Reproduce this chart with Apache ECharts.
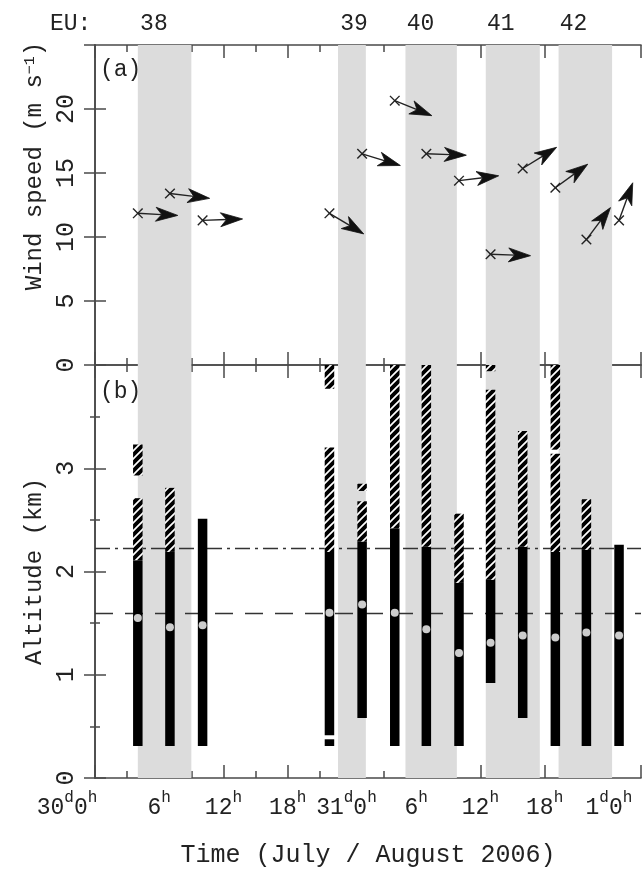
<!DOCTYPE html>
<html><head><meta charset="utf-8">
<script src="https://cdn.jsdelivr.net/npm/echarts@6/dist/echarts.min.js"></script>
<style>html,body{margin:0;padding:0;background:#fff}#c{width:643px;height:869px}</style>
</head><body><div id="c"></div>
<script>
const FONT = '"Liberation Mono", monospace';
const TXT = '#222';
const AX = '#4a4a4a';

// Flight times, hours after 30 July 0h UTC
const flightTimes = [4.0, 7.0, 10.05, 21.9, 24.95, 28.0, 30.95, 34.0, 36.95, 39.95, 43.0, 45.9, 48.95];
// Panel (a): wind speed (m/s) and wind direction (deg, from)
const windSpeed = [11.85, 13.4, 11.3, 11.85, 16.5, 20.65, 16.5, 14.4, 8.65, 15.35, 13.85, 9.8, 11.3];
const windDir = [273, 277, 268, 301, 287, 292, 272, 263, 272, 238, 234, 217, 200];
// Panel (b): altitude ranges (km)
const solidBase = [0.31, 0.31, 0.31, 0.415, 0.58, 0.31, 0.31, 0.31, 0.92, 0.58, 0.31, 0.31, 0.31];
const solidTop  = [2.11, 2.19, 2.51, 2.19, 2.29, 2.42, 2.24, 1.89, 1.92, 2.24, 2.19, 2.21, 2.26];
const hatchTop  = [2.71, 2.81, 2.51, 3.20, 2.68, 4.0, 4.0, 2.56, 3.76, 3.36, 3.14, 2.70, 2.26];
const extraHatchTime = [4.0, 21.9, 24.95, 36.95, 43.0];
const extraHatchBase = [2.93, 3.77, 2.78, 3.94, 3.18];
const extraHatchTop  = [3.23, 4.0, 2.85, 4.0, 4.0];
const extraSolidTime = [21.9];
const extraSolidBase = [0.31];
const extraSolidTop  = [0.375];
const dotAltitude = [1.55, 1.46, 1.48, 1.60, 1.68, 1.60, 1.44, 1.21, 1.31, 1.38, 1.36, 1.41, 1.38];
const refLevels = [2.23, 1.60];
// EU periods
const euBandStart = [4.0, 22.7, 29.0, 36.5, 43.3];
const euBandEnd   = [9.0, 25.3, 33.8, 41.55, 48.3];
const euTimes   = [5.5, 24.2, 30.4, 37.9, 44.7];
const euNumbers = ['38', '39', '40', '41', '42'];
// x tick labels every 6 h
const xTickLabels = ['30d0h', '6h', '12h', '18h', '31d0h', '6h', '12h', '18h', '1d0h'];
const xTickShift  = ['g56', '', '', '', 'g11', '', '', '', ''];

const T_MAX = 51;

// hatch pattern
function makeHatch() {
  const s = 8;
  const c = document.createElement('canvas');
  c.width = s; c.height = s;
  const g = c.getContext('2d');
  g.fillStyle = '#000'; g.fillRect(0, 0, s, s);
  g.strokeStyle = '#fff'; g.lineWidth = 1.7;
  g.beginPath();
  g.moveTo(-1, s + 1); g.lineTo(s + 1, -1);
  g.moveTo(-1, 1); g.lineTo(1, -1);
  g.moveTo(s - 1, s + 1); g.lineTo(s + 1, s - 1);
  g.stroke();
  return c;
}
const hatchImg = makeHatch();

// bar segments [t, y0, y1, kind] kind 0 solid, 1 hatched
const segments = [];
flightTimes.forEach((t, i) => {
  segments.push([t, solidBase[i], solidTop[i], 0]);
  if (hatchTop[i] > solidTop[i]) segments.push([t, solidTop[i], hatchTop[i], 1]);
});
extraHatchTime.forEach((t, i) => segments.push([t, extraHatchBase[i], extraHatchTop[i], 1]));
extraSolidTime.forEach((t, i) => segments.push([t, extraSolidBase[i], extraSolidTop[i], 0]));

const bands = euBandStart.map((s, i) => [s, euBandEnd[i]]);

function xAx(grid, pos, interval, len, extra) {
  return Object.assign({
    type: 'value', gridIndex: grid, position: pos, min: 0, max: T_MAX, interval: interval,
    axisLine: { show: false, lineStyle: { color: AX, width: 1.6 } },
    axisTick: { show: true, inside: true, length: len, lineStyle: { color: AX, width: 1.5 } },
    axisLabel: { show: false }, splitLine: { show: false }
  }, extra || {});
}

const xRich = {
  n: { fontSize: 23, fontFamily: FONT, color: TXT, lineHeight: 29, verticalAlign: 'bottom' },
  s: { fontSize: 16, fontFamily: FONT, color: TXT, lineHeight: 16, verticalAlign: 'top' },
  g56: { width: 56 }, g11: { width: 11 }
};

function xLabelFmt(v) {
  if (Math.abs(v % 6) > 1e-6) return '';
  const idx = Math.round(v / 6);
  if (idx < 0 || idx >= xTickLabels.length) return '';
  let s = xTickLabels[idx].replace(/(\d+)([dh])/g, '{n|$1}{s|$2}');
  if (xTickShift[idx]) s += '{' + xTickShift[idx] + '|}';
  return s;
}

const xAxes = [
  xAx(0, 'bottom', 3, 7, { axisLine: { show: true, lineStyle: { color: AX, width: 1.6 } } }),
  xAx(0, 'bottom', 6, 13),
  xAx(0, 'top', 3, 7, { axisLine: { show: true, lineStyle: { color: AX, width: 1.6 } } }),
  xAx(0, 'top', 6, 13),
  xAx(0, 'top', 6, 0, {
    axisTick: { show: false },
    axisLabel: {
      show: true, customValues: euTimes, margin: 10,
      fontSize: 23, fontFamily: FONT, color: TXT,
      formatter: v => { const k = euTimes.findIndex(e => Math.abs(e - v) < 1e-6); return k >= 0 ? euNumbers[k] : ''; }
    }
  }),
  xAx(1, 'bottom', 3, 7, { axisLine: { show: true, lineStyle: { color: AX, width: 1.6 } } }),
  xAx(1, 'bottom', 6, 13, {
    axisLabel: { show: true, margin: 12, formatter: xLabelFmt, rich: xRich },
    name: 'Time (July / August 2006)', nameLocation: 'middle', nameGap: 65, nameMoveOverlap: false,
    nameTextStyle: { fontSize: 25, fontFamily: FONT, color: TXT }
  }),
  xAx(1, 'top', 3, 7, { axisLine: { show: true, lineStyle: { color: AX, width: 1.6 } } }),
  xAx(1, 'top', 6, 13)
];

function yAx(grid, pos, max, interval, extra) {
  return Object.assign({
    type: 'value', gridIndex: grid, position: pos, min: 0, max: max, interval: interval,
    axisLine: { show: true, lineStyle: { color: AX, width: 1.6 } },
    axisTick: { show: true, inside: true, length: 11, lineStyle: { color: AX, width: 1.5 } },
    axisLabel: { show: false }, splitLine: { show: false }
  }, extra || {});
}
const yLabel = { show: true, rotate: 90, showMaxLabel: false, margin: 16, fontSize: 25, fontFamily: FONT, color: TXT };
const yAxes = [
  yAx(0, 'left', 25, 5, {
    axisLabel: yLabel,
    name: 'Wind speed (m s{sup|\u22121})', nameLocation: 'middle', nameRotate: 90, nameGap: 48, nameMoveOverlap: false,
    nameTextStyle: { fontSize: 24, fontFamily: FONT, color: TXT, padding: [0, 0, 0, 78],
      rich: { sup: { fontSize: 15, fontFamily: FONT, color: TXT, verticalAlign: 'top' } } }
  }),
  yAx(0, 'right', 25, 5),
  yAx(1, 'left', 4, 1, {
    axisLabel: yLabel,
    minorTick: { show: true, splitNumber: 2, length: 5, lineStyle: { color: AX, width: 1.5 } },
    name: 'Altitude (km)', nameLocation: 'middle', nameRotate: 90, nameGap: 48, nameMoveOverlap: false,
    nameTextStyle: { fontSize: 24, fontFamily: FONT, color: TXT }
  }),
  yAx(1, 'right', 4, 1, {
    minorTick: { show: true, splitNumber: 2, length: 5, lineStyle: { color: AX, width: 1.5 } }
  })
];

function bandRender(params, api) {
  const cs = params.coordSys;
  const a = api.coord([api.value(0), 0]);
  const b = api.coord([api.value(1), 0]);
  return { type: 'rect', shape: { x: a[0], y: cs.y, width: b[0] - a[0], height: cs.height },
    style: { fill: '#dcdcdc' } };
}

function arrowRender(params, api) {
  const p = api.coord([api.value(0), api.value(1)]);
  const d = api.value(2) * Math.PI / 180;
  const ux = -Math.sin(d), uy = Math.cos(d);
  const px = -uy, py = ux;
  const L = 40, H = 22, W = 7, N = 6, c = 4.8;
  const at = k => [p[0] + ux * k, p[1] + uy * k];
  const tip = at(L), back = at(L - H), notch = at(L - H + N);
  const b1 = [back[0] + px * W, back[1] + py * W];
  const b2 = [back[0] - px * W, back[1] - py * W];
  const st = { stroke: '#222', lineWidth: 1.4 };
  return { type: 'group', children: [
    { type: 'line', shape: { x1: p[0] - c, y1: p[1] - c, x2: p[0] + c, y2: p[1] + c }, style: st },
    { type: 'line', shape: { x1: p[0] - c, y1: p[1] + c, x2: p[0] + c, y2: p[1] - c }, style: st },
    { type: 'line', shape: { x1: p[0], y1: p[1], x2: notch[0], y2: notch[1] }, style: st },
    { type: 'polygon', shape: { points: [tip, b1, notch, b2] }, style: { fill: '#111', stroke: '#111', lineWidth: 0.8, lineJoin: 'round' } }
  ] };
}

function barRender(params, api) {
  const top = api.coord([api.value(0), api.value(2)]);
  const bot = api.coord([api.value(0), api.value(1)]);
  const w = 9.5;
  const hatched = api.value(3) === 1;
  return { type: 'rect', shape: { x: top[0] - w / 2, y: top[1], width: w, height: bot[1] - top[1] },
    style: { fill: hatched ? { image: hatchImg, repeat: 'repeat' } : '#000' } };
}

const option = {
  animation: false,
  backgroundColor: '#fff',
  grid: [
    { left: 95, right: 2, top: 45, height: 320, containLabel: false, outerBoundsMode: 'none' },
    { left: 95, right: 2, top: 365, height: 413, containLabel: false, outerBoundsMode: 'none' }
  ],
  xAxis: xAxes,
  yAxis: yAxes,
  graphic: [
    { type: 'text', x: 50, y: 24, style: { text: 'EU:', fontSize: 23, fontFamily: FONT, fill: TXT, verticalAlign: 'middle' } },
    { type: 'text', x: 100, y: 70, style: { text: '(a)', fontSize: 23, fontFamily: FONT, fill: TXT, verticalAlign: 'middle' }, z: 100 },
    { type: 'text', x: 100, y: 392, style: { text: '(b)', fontSize: 23, fontFamily: FONT, fill: TXT, verticalAlign: 'middle' }, z: 100 }
  ],
  series: [
    { type: 'custom', xAxisIndex: 0, yAxisIndex: 0, data: bands, renderItem: bandRender, z: 1, silent: true },
    { type: 'custom', xAxisIndex: 5, yAxisIndex: 2, data: bands, renderItem: bandRender, z: 1, silent: true },
    { type: 'custom', xAxisIndex: 0, yAxisIndex: 0, z: 5, silent: true,
      data: flightTimes.map((t, i) => [t, windSpeed[i], windDir[i]]), renderItem: arrowRender },
    { type: 'custom', xAxisIndex: 5, yAxisIndex: 2, z: 5, silent: true, data: segments, renderItem: barRender },
    { type: 'scatter', xAxisIndex: 5, yAxisIndex: 2, z: 6, silent: true, symbol: 'circle', symbolSize: 8,
      itemStyle: { color: '#fff' }, data: flightTimes.map((t, i) => [t, dotAltitude[i]]) },
    { type: 'line', xAxisIndex: 5, yAxisIndex: 2, z: 7, data: [], silent: true,
      markLine: { silent: true, symbol: ['none', 'none'], label: { show: false }, animation: false,
        data: [
          { yAxis: refLevels[0], lineStyle: { color: '#333', width: 1.3, type: [15, 5, 3, 5] } },
          { yAxis: refLevels[1], lineStyle: { color: '#333', width: 1.3, type: [18, 12] } }
        ] } }
  ]
};

const chart = echarts.init(document.getElementById('c'), null, { renderer: 'canvas' });
chart.setOption(option);
</script>
</body></html>
